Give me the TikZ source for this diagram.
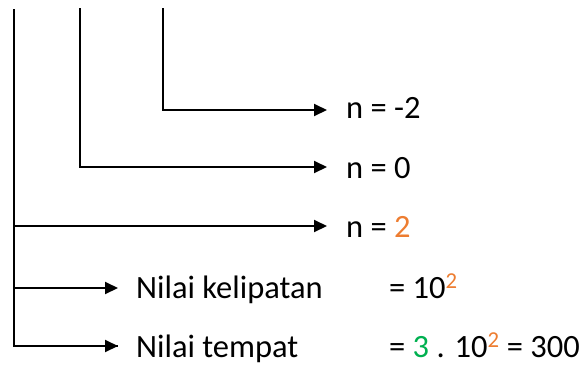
\documentclass[tikz,border=0pt]{standalone}
\usepackage{fontspec}
\setmainfont{Carlito}
\usetikzlibrary{arrows.meta}
\definecolor{orng}{HTML}{ED7D31}
\definecolor{grn}{HTML}{00B050}
\begin{document}
\begin{tikzpicture}[x=1pt,y=-1pt,
  conn/.style={line width=2pt},
  arr/.style={conn,-{Triangle[length=13pt,width=12pt]}},
  lbl/.style={anchor=base west,inner sep=0pt,font=\fontsize{32.5}{38}\selectfont}]
\useasboundingbox (0,0) rectangle (584,365);
% tops of vertical lines
\coordinate (v1) at (14,9);
\coordinate (v2) at (80,8);
\coordinate (v3) at (163,8);
% arrow tips
\coordinate (e1) at (327,110);
\coordinate (e2) at (327,167);
\coordinate (e3) at (327,226);
\coordinate (e4) at (118,288);
\coordinate (e5) at (118,346);
% labels
\node[lbl] (n1) at (346,118) {n = -2};
\node[lbl] (n2) at (346,178) {n = 0};
\node[lbl] (n3) at (346,237) {n = {\color{orng}2}};
\node[lbl] (k1) at (136,298) {Nilai kelipatan};
\node[lbl] (k2) at (136,357) {Nilai tempat};
\node[lbl] (r1) at (389,298) {= 10\textsuperscript{\color{orng}2}};
\node[lbl] (r2) at (389,357) {= {\color{grn}3} . 10\textsuperscript{\color{orng}2} = 300};
% connectors
\draw[arr] (v3) |- (e1);
\draw[arr] (v2) |- (e2);
\draw[conn] (v1) |- (e5);
\draw[arr] (v1 |- e3) -- (e3);
\draw[arr] (v1 |- e4) -- (e4);
\draw[arr] (v1 |- e5) -- (e5);
\end{tikzpicture}
\end{document}
